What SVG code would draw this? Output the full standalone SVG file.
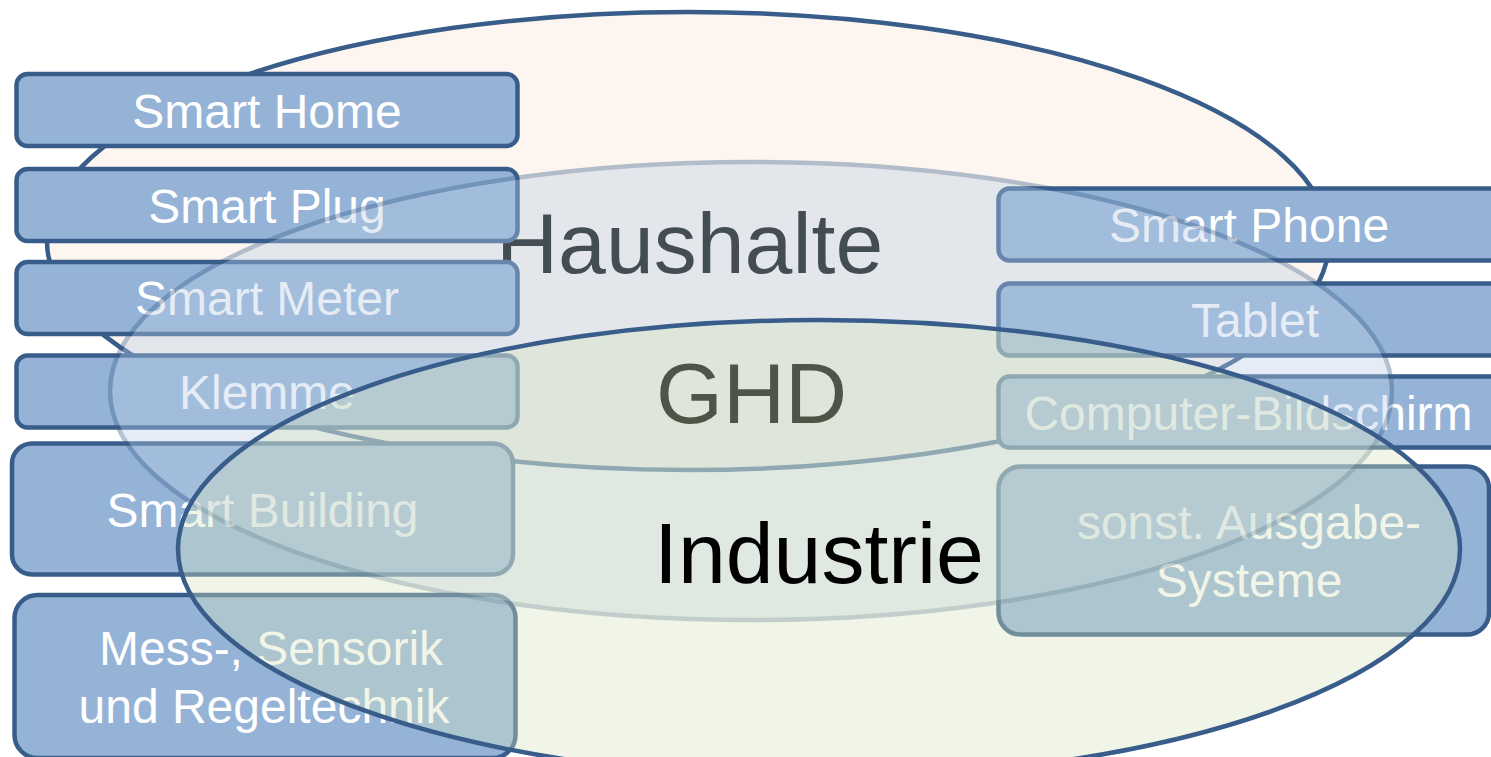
<svg xmlns="http://www.w3.org/2000/svg" width="1491" height="757" viewBox="0 0 1491 757">
  <style>
    .box { fill: #95b3d7; stroke: #385d8a; stroke-width: 4.5; }
    .bt { font-family: "Liberation Sans", Arial, sans-serif; font-size: 48px; fill: #ffffff; text-anchor: middle; }
    .big { font-family: "Liberation Sans", Arial, sans-serif; font-size: 86px; fill: #000000; }
    .ell { stroke: #385d8a; stroke-width: 4.5; }
  </style>
  <rect x="0" y="0" width="1491" height="757" fill="#ffffff"/>

  <g id="haushalte">
    <ellipse class="ell" cx="688" cy="241" rx="641" ry="229" fill="#fdf5f0"/>
    <text class="big" x="496" y="273">Haushalte</text>
  </g>

  <g id="smart-home">
    <rect class="box" x="16.5" y="74" width="501" height="72" rx="11"/>
    <text class="bt" x="267" y="128">Smart Home</text>
  </g>
  <g id="smart-plug">
    <rect class="box" x="16.5" y="169" width="501" height="72" rx="11"/>
    <text class="bt" x="267" y="223">Smart Plug</text>
  </g>
  <g id="smart-meter">
    <rect class="box" x="16.5" y="262" width="501" height="72" rx="11"/>
    <text class="bt" x="267" y="315">Smart Meter</text>
  </g>
  <g id="klemme">
    <rect class="box" x="16.5" y="355.5" width="501" height="72" rx="11"/>
    <text class="bt" x="267" y="409">Klemme</text>
  </g>
  <g id="smart-building">
    <rect class="box" x="12" y="443.5" width="501" height="131" rx="20"/>
    <text class="bt" x="262.5" y="527">Smart Building</text>
  </g>
  <g id="mess-sensorik">
    <rect class="box" x="14.5" y="595" width="501" height="163" rx="23"/>
    <text class="bt" x="271" y="665">Mess-, Sensorik</text>
    <text class="bt" x="264" y="723">und Regeltechnik</text>
  </g>

  <g id="smart-phone">
    <rect class="box" x="998.5" y="188.5" width="506" height="72" rx="11"/>
    <text class="bt" x="1249" y="242">Smart Phone</text>
  </g>
  <g id="tablet">
    <rect class="box" x="998.5" y="283.5" width="506" height="72" rx="11"/>
    <text class="bt" x="1255" y="337">Tablet</text>
  </g>
  <g id="computer-bildschirm">
    <rect class="box" x="998.5" y="376.5" width="506" height="71" rx="11"/>
    <text class="bt" x="1248.5" y="430">Computer-Bildschirm</text>
  </g>
  <g id="sonst-ausgabe">
    <rect class="box" x="998.5" y="466.5" width="490.5" height="168" rx="22"/>
    <text class="bt" x="1249" y="539">sonst. Ausgabe-</text>
    <text class="bt" x="1249" y="597">Systeme</text>
  </g>

  <g id="ghd">
    <ellipse class="ell" cx="751" cy="391" rx="641" ry="229" fill="#b9cde5" opacity="0.37"/>
    <text class="big" x="656" y="423">GHD</text>
  </g>

  <g id="industrie">
    <ellipse class="ell" cx="819" cy="549" rx="641" ry="229" fill="#d7e4bd" fill-opacity="0.37"/>
    <text class="big" x="654" y="583">Industrie</text>
  </g>

  <g id="connectors"/>
</svg>
